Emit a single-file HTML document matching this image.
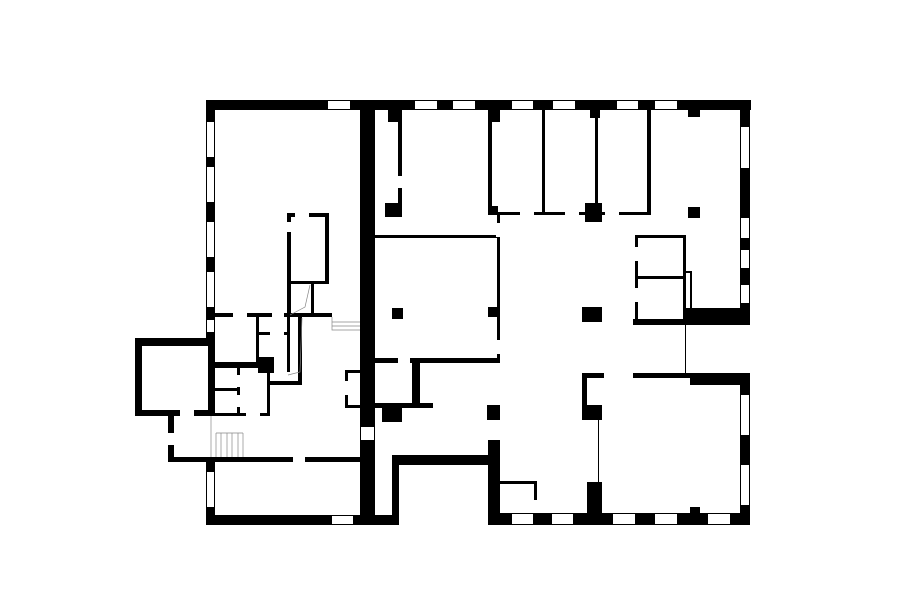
<!DOCTYPE html>
<html><head><meta charset="utf-8"><style>html,body{margin:0;padding:0;background:#fff;}svg{display:block}</style></head>
<body>
<svg width="900" height="604" viewBox="0 0 900 604" xmlns="http://www.w3.org/2000/svg">
<rect width="900" height="604" fill="#fff"/>
<g fill="#000">
<!-- outer top wall -->
<rect x="206" y="100" width="545" height="10"/>
<!-- left wall upper -->
<rect x="206" y="100" width="9" height="238"/>
<!-- central thick wall -->
<rect x="360" y="100" width="15" height="425"/>
<!-- left lower wall -->
<rect x="206" y="458" width="9" height="67"/>
<!-- bottom left wall -->
<rect x="206" y="515" width="192" height="10"/>
<rect x="392" y="458" width="7" height="67"/>
<!-- annex -->
<rect x="135" y="338" width="80" height="8"/>
<rect x="135" y="338" width="7" height="77"/>
<rect x="135" y="410" width="78" height="6"/>
<rect x="208" y="338" width="6" height="78"/>
<!-- corridor -->
<rect x="168" y="414" width="6" height="48"/>
<rect x="168" y="457" width="194" height="5"/>
<!-- inner left -->
<rect x="215" y="313" width="117" height="4"/>
<rect x="287" y="213" width="42" height="4"/>
<rect x="287" y="213" width="4" height="102"/>
<rect x="325" y="213" width="4" height="70"/>
<rect x="287" y="281" width="42" height="3"/>
<rect x="311" y="283" width="3" height="32"/>
<rect x="256" y="315" width="3" height="52"/>
<rect x="258" y="332" width="30" height="3"/>
<rect x="258" y="357" width="16" height="16"/>
<rect x="287" y="315" width="3" height="57"/>
<rect x="298" y="315" width="4" height="70"/>
<rect x="270" y="381" width="32" height="4"/>
<rect x="212" y="362" width="60" height="6"/>
<rect x="212" y="338" width="3" height="78"/>
<rect x="267" y="368" width="3" height="47"/>
<rect x="237" y="368" width="3" height="47"/>
<rect x="212" y="388" width="27" height="3"/>
<rect x="212" y="413" width="58" height="3"/>
<rect x="345" y="370" width="15" height="3"/>
<rect x="345" y="370" width="3" height="38"/>
<rect x="345" y="405" width="15" height="3"/>
<!-- right part outer -->
<rect x="740" y="100" width="10" height="225"/>
<rect x="633" y="319" width="117" height="6"/>
<rect x="684" y="308" width="66" height="12"/>
<rect x="633" y="373" width="117" height="5"/>
<rect x="690" y="373" width="60" height="12"/>
<rect x="582" y="373" width="22" height="5"/>
<rect x="740" y="373" width="10" height="152"/>
<rect x="488" y="513" width="262" height="12"/>
<rect x="690" y="507" width="10" height="8"/>
<!-- lower middle -->
<rect x="582" y="375" width="5" height="45"/>
<rect x="582" y="405" width="20" height="15"/>
<rect x="587" y="482" width="15" height="33"/>
<rect x="598" y="420" width="1" height="62"/>
<rect x="488" y="440" width="12" height="85"/>
<rect x="392" y="455" width="108" height="10"/>
<rect x="500" y="481" width="37" height="3"/>
<rect x="534" y="481" width="3" height="19"/>
<!-- middle room -->
<rect x="375" y="235" width="125" height="3"/>
<rect x="497" y="213" width="3" height="150"/>
<rect x="375" y="358" width="125" height="5"/>
<rect x="392" y="308" width="11" height="11"/>
<rect x="488" y="307" width="12" height="10"/>
<rect x="412" y="363" width="8" height="45"/>
<rect x="375" y="403" width="58" height="5"/>
<rect x="382" y="408" width="20" height="14"/>
<rect x="487" y="405" width="13" height="15"/>
<rect x="582" y="307" width="20" height="15"/>
<!-- upper left rooms -->
<rect x="398" y="110" width="4" height="107"/>
<rect x="388" y="110" width="14" height="12"/>
<rect x="385" y="203" width="17" height="14"/>
<rect x="488" y="110" width="4" height="105"/>
<rect x="488" y="110" width="12" height="12"/>
<rect x="488" y="206" width="10" height="9"/>
<rect x="488" y="212" width="163" height="3"/>
<rect x="542" y="110" width="3" height="103"/>
<rect x="595" y="110" width="3" height="103"/>
<rect x="585" y="203" width="17" height="19"/>
<rect x="590" y="110" width="10" height="8"/>
<rect x="647" y="110" width="4" height="105"/>
<rect x="688" y="207" width="12" height="11"/>
<rect x="688" y="110" width="12" height="7"/>
<!-- small rooms -->
<rect x="635" y="235" width="51" height="3"/>
<rect x="635" y="235" width="3" height="87"/>
<rect x="683" y="235" width="3" height="87"/>
<rect x="635" y="276" width="51" height="3"/>
<rect x="685" y="271" width="6" height="2"/>
<rect x="690" y="271" width="2" height="40"/>
<rect x="685" y="325" width="1" height="48"/>
</g>
<!-- windows (white) -->
<g fill="#fff">
<rect x="328" y="101" width="22" height="8"/>
<rect x="415" y="101" width="22" height="8"/><rect x="453" y="101" width="22" height="8"/>
<rect x="512" y="101" width="21" height="8"/><rect x="553" y="101" width="22" height="8"/>
<rect x="617" y="101" width="21" height="8"/><rect x="655" y="101" width="22" height="8"/>
<rect x="207" y="122" width="7" height="35"/><rect x="207" y="167" width="7" height="35"/>
<rect x="207" y="222" width="7" height="35"/><rect x="207" y="272" width="7" height="35"/>
<rect x="207" y="320" width="7" height="12"/>
<rect x="207" y="472" width="7" height="35"/>
<rect x="332" y="516" width="21" height="8"/>
<rect x="741" y="127" width="8" height="41"/><rect x="741" y="218" width="8" height="20"/>
<rect x="741" y="250" width="8" height="18"/><rect x="741" y="285" width="8" height="18"/>
<rect x="741" y="395" width="8" height="40"/><rect x="741" y="465" width="8" height="40"/>
<rect x="512" y="514" width="21" height="10"/><rect x="552" y="514" width="21" height="10"/>
<rect x="613" y="514" width="22" height="10"/><rect x="655" y="514" width="22" height="10"/>
<rect x="708" y="514" width="22" height="10"/>
<rect x="361" y="427" width="13" height="13"/>
<rect x="398" y="357" width="12" height="7"/>
<!-- doors -->
<rect x="233" y="312" width="14" height="6"/><rect x="272" y="312" width="12" height="6"/>
<rect x="270" y="331" width="14" height="5"/>
<rect x="295" y="212" width="14" height="6"/>
<rect x="286" y="222" width="6" height="10"/>
<rect x="180" y="409" width="14" height="8"/>
<rect x="167" y="433" width="8" height="12"/>
<rect x="293" y="456" width="12" height="7"/>
<rect x="236" y="375" width="5" height="12"/><rect x="236" y="395" width="5" height="12"/>
<rect x="246" y="412" width="14" height="5"/>
<rect x="344" y="381" width="5" height="14"/>
<rect x="397" y="176" width="6" height="12"/>
<rect x="496" y="223" width="5" height="14"/><rect x="496" y="340" width="5" height="14"/>
<rect x="520" y="211" width="14" height="5"/><rect x="565" y="211" width="14" height="5"/>
<rect x="605" y="211" width="14" height="5"/>
<rect x="646" y="218" width="6" height="14"/>
<rect x="634" y="247" width="5" height="14"/><rect x="634" y="288" width="5" height="14"/>
<rect x="612" y="372" width="14" height="7"/>
<rect x="376" y="461" width="14" height="5"/>
</g>
<g stroke="#888" stroke-width="0.7" fill="none">
<path d="M211 416 V457 M216 433 H243 M216 433 V457 M221 433 V457 M227 433 V457 M232 433 V457 M238 433 V457 M243 433 V457"/>
<path d="M332 317 V330 H360 M332 322 H360 M332 326 H360"/>
<path d="M290 315 L305 307 L310 285 M288 375 L300 372 L302 318"/>
</g>
</svg>
</body></html>
